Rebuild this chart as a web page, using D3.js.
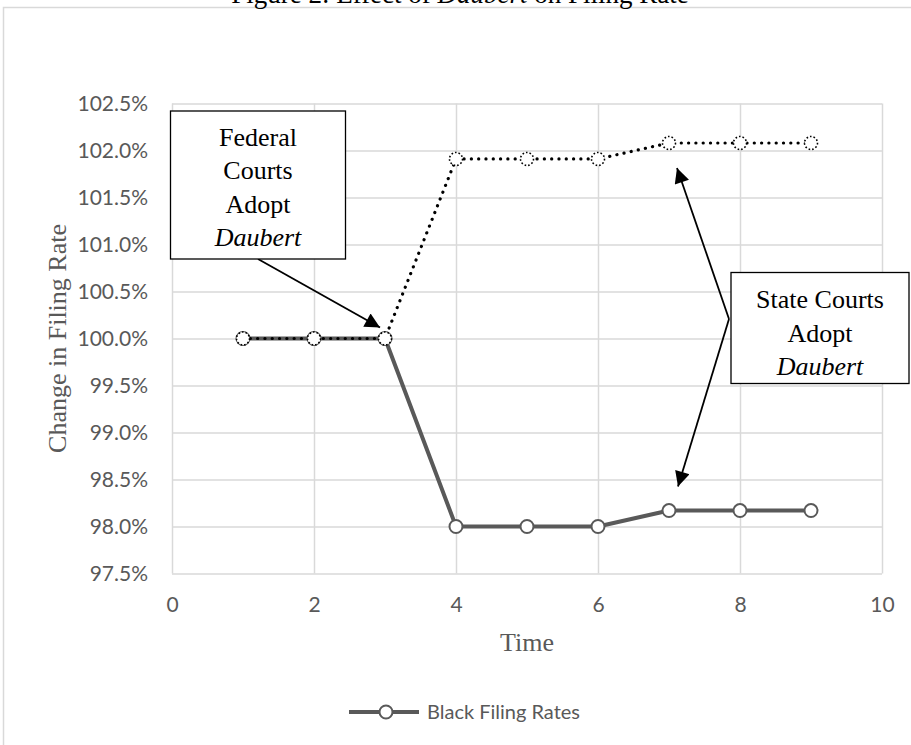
<!DOCTYPE html>
<html>
<head>
<meta charset="utf-8">
<script src="https://cdn.jsdelivr.net/npm/d3@7"></script>
<style>
  html, body { margin: 0; padding: 0; background: #fff; }
  svg { display: block; }
</style>
</head>
<body>
<svg id="chart" width="911" height="745"></svg>
<script>
// Filing-rate index over time (percent of baseline)
const times = [1, 2, 3, 4, 5, 6, 7, 8, 9];
const blackRates = [100.0, 100.0, 100.0, 98.0, 98.0, 98.0, 98.17, 98.17, 98.17];
const whiteRates = [100.0, 100.0, 100.0, 101.91, 101.91, 101.91, 102.08, 102.08, 102.08];
const xTicks = [0, 2, 4, 6, 8, 10];
const yTicks = [97.5, 98.0, 98.5, 99.0, 99.5, 100.0, 100.5, 101.0, 101.5, 102.0, 102.5];
const seriesNames = ["Black Filing Rates"];

const svg = d3.select("#chart");
const plot = { left: 172, right: 882, top: 103.5, bottom: 573.5 };

const x = d3.scaleLinear().domain([0, 10]).range([plot.left, plot.right]);
const y = d3.scaleLinear().domain([97.5, 102.5]).range([plot.bottom, plot.top]);

const serif = "'Liberation Serif', 'Times New Roman', serif";
const sans = "Lato, 'Open Sans', sans-serif";
const grey = "#595959";
const gridColor = "#d9d9d9";

// outer chart frame
svg.append("rect")
  .attr("x", 3.5).attr("y", 7.5)
  .attr("width", 940).attr("height", 760)
  .attr("fill", "#fff").attr("stroke", gridColor).attr("stroke-width", 1.5);

// title, sitting above the frame
const title = svg.append("text")
  .attr("x", 460).attr("y", 3)
  .attr("text-anchor", "middle")
  .attr("font-family", serif).attr("font-size", 27).attr("fill", "#000");
title.append("tspan").text("Figure 2: Effect of ");
title.append("tspan").attr("font-style", "italic").text("Daubert");
title.append("tspan").text(" on Filing Rate");

// gridlines
const gy = svg.append("g")
  .attr("transform", `translate(${plot.left},0)`)
  .call(d3.axisLeft(y).tickValues(yTicks).tickSize(-(plot.right - plot.left)).tickFormat(""));
const gx = svg.append("g")
  .attr("transform", `translate(0,${plot.bottom})`)
  .call(d3.axisBottom(x).tickValues(xTicks).tickSize(-(plot.bottom - plot.top)).tickFormat(""));
[gy, gx].forEach(g => {
  g.select(".domain").remove();
  g.selectAll("line").attr("stroke", gridColor).attr("stroke-width", 1.5);
});

// tick labels
const ay = svg.append("g")
  .attr("transform", `translate(${plot.left},0)`)
  .call(d3.axisLeft(y).tickValues(yTicks).tickSize(0).tickPadding(24)
    .tickFormat(d => d.toFixed(1) + "%"));
const ax = svg.append("g")
  .attr("transform", `translate(0,${plot.bottom})`)
  .call(d3.axisBottom(x).tickValues(xTicks).tickSize(0).tickPadding(24)
    .tickFormat(d3.format("d")));
[ay, ax].forEach(g => {
  g.select(".domain").remove();
  g.selectAll("text").attr("font-family", sans).attr("font-size", 21).attr("fill", grey);
});

// axis titles
svg.append("text")
  .attr("x", (plot.left + plot.right) / 2).attr("y", 651)
  .attr("text-anchor", "middle")
  .attr("font-family", serif).attr("font-size", 26).attr("fill", grey)
  .text("Time");
svg.append("text")
  .attr("transform", `translate(66,${(plot.top + plot.bottom) / 2}) rotate(-90)`)
  .attr("text-anchor", "middle")
  .attr("font-family", serif).attr("font-size", 26).attr("fill", grey)
  .text("Change in Filing Rate");

const line = d3.line().x(d => x(d[0])).y(d => y(d[1]));
const blackPts = times.map((t, i) => [t, blackRates[i]]);
const whitePts = times.map((t, i) => [t, whiteRates[i]]);

// solid grey series
svg.append("path").datum(blackPts)
  .attr("d", line).attr("fill", "none")
  .attr("stroke", grey).attr("stroke-width", 4).attr("stroke-linejoin", "round");
svg.append("g").selectAll("circle").data(blackPts).join("circle")
  .attr("cx", d => x(d[0])).attr("cy", d => y(d[1])).attr("r", 6.5)
  .attr("fill", "#fff").attr("stroke", grey).attr("stroke-width", 2);

// dotted series
svg.append("path").datum(whitePts)
  .attr("d", line).attr("fill", "none")
  .attr("stroke", "#000").attr("stroke-width", 3.2)
  .attr("stroke-linecap", "round").attr("stroke-dasharray", "0.1 7.2");
svg.append("g").selectAll("circle").data(whitePts).join("circle")
  .attr("cx", d => x(d[0])).attr("cy", d => y(d[1])).attr("r", 6.5)
  .attr("fill", "#fff").attr("stroke", "#000").attr("stroke-width", 1.6)
  .attr("stroke-dasharray", "1.6 2");

// arrowhead marker
svg.append("defs").append("marker")
  .attr("id", "arrow").attr("viewBox", "0 0 10 10")
  .attr("refX", 10).attr("refY", 5)
  .attr("markerUnits", "userSpaceOnUse")
  .attr("markerWidth", 18).attr("markerHeight", 15)
  .attr("orient", "auto")
  .append("path").attr("d", "M0,0 L10,5 L0,10 Z").attr("fill", "#000");

function callout(box, lines) {
  svg.append("rect")
    .attr("x", box.x).attr("y", box.y).attr("width", box.w).attr("height", box.h)
    .attr("fill", "#fff").attr("stroke", "#000").attr("stroke-width", 1.3);
  const t = svg.append("text")
    .attr("text-anchor", "middle")
    .attr("font-family", serif).attr("font-size", 26).attr("fill", "#000");
  lines.forEach((l, i) => {
    t.append("tspan")
      .attr("x", box.x + box.w / 2)
      .attr("y", box.firstLine + i * 33.5)
      .attr("font-style", l.italic ? "italic" : null)
      .text(l.text);
  });
}

function arrow(x1, y1, x2, y2) {
  svg.append("line")
    .attr("x1", x1).attr("y1", y1).attr("x2", x2).attr("y2", y2)
    .attr("stroke", "#000").attr("stroke-width", 1.8)
    .attr("marker-end", "url(#arrow)");
}

// federal callout pointing at the third period
arrow(258, 259, x(3) - 5, y(100) - 11);
callout({ x: 170.5, y: 111, w: 175, h: 148, firstLine: 145.5 }, [
  { text: "Federal" }, { text: "Courts" }, { text: "Adopt" }, { text: "Daubert", italic: true }
]);

// state callout pointing at both series in the seventh period
arrow(729, 319, x(7) + 8, y(whiteRates[6]) + 25);
arrow(729, 319, x(7) + 9, y(blackRates[6]) - 24);
callout({ x: 731, y: 272.5, w: 178, h: 111, firstLine: 308 }, [
  { text: "State Courts" }, { text: "Adopt" }, { text: "Daubert", italic: true }
]);

// legend
const lg = svg.append("g").attr("transform", "translate(349,712)");
lg.append("line").attr("x1", 0).attr("x2", 70).attr("y1", 0).attr("y2", 0)
  .attr("stroke", grey).attr("stroke-width", 4);
lg.append("circle").attr("cx", 37).attr("cy", 0).attr("r", 6.5)
  .attr("fill", "#fff").attr("stroke", grey).attr("stroke-width", 2);
lg.append("text").attr("x", 78).attr("y", 0).attr("dy", "0.35em")
  .attr("font-family", sans).attr("font-size", 20).attr("fill", grey)
  .text(seriesNames[0]);
</script>
</body>
</html>
